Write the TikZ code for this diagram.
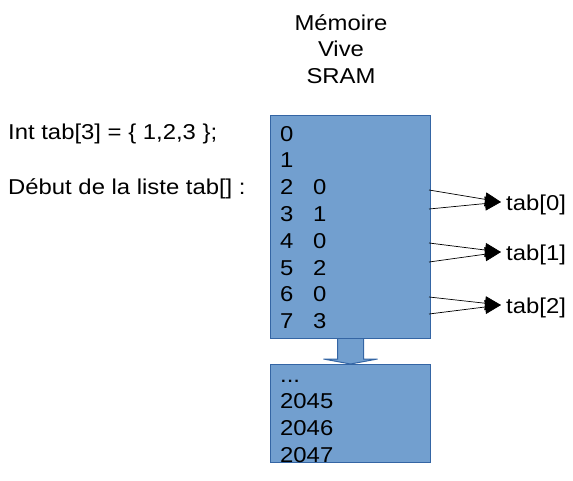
\documentclass[tikz,border=0pt]{standalone}
\usepackage{fontspec}
\setmainfont{Liberation Sans}[FakeStretch=1.11]
\usetikzlibrary{arrows.meta, positioning, calc}
\definecolor{ramfill}{RGB}{114, 159, 207}
\definecolor{ramedge}{RGB}{52, 101, 164}

\begin{document}
\begin{tikzpicture}[x=1pt, y=-1pt,
  txt/.style={inner sep=0pt, font=\fontsize{21.5}{26.7}\selectfont},
  ram/.style={draw=ramedge, fill=ramfill, line width=1pt, inner sep=0pt, minimum width=160pt},
  ptr/.style={-{Triangle[length=16pt, width=14pt]}, line width=0.7pt}
]
  \useasboundingbox (0,0) rectangle (573,480);
  \node[txt, align=center, anchor=north] (titre) at (341,14) {Mémoire\\Vive\\SRAM};
  \node[txt, anchor=base west] (decl) at (8,139) {Int tab[3] = \{ 1,2,3 \};};
  \node[txt, anchor=base west] (debut) at (8,194) {Début de la liste tab[] :};

  % memoire : adresses 0 a 7, puis la fin
  \node[ram, minimum height=223pt, anchor=north west] (haut) at (270,115) {};
  \node[ram, minimum height=98pt, anchor=north west] (bas) at (270,364) {};
  \foreach \adr/\val [count=\i from 0] in {0/,1/,2/0,3/1,4/0,5/2,6/0,7/3} {
    \node[txt, anchor=base west] (a\adr) at (280,141+26.8*\i) {\adr};
    \node[txt, anchor=base west] (v\adr) at (313,141+26.8*\i) {\val};
  }
  \node[txt, anchor=base west] (b0) at (280,382) {...};
  \foreach \adr [count=\i] in {2045,2046,2047}
    \node[txt, anchor=base west] (b\i) at (280,382+26.7*\i) {\adr};

  % fleche entre les deux blocs
  \draw[ram] ($(haut.south)+(-13,0)$) -- ++(0,20) -- ++(-14,0) -- (bas.north)
    -- ($(haut.south)+(27,20)$) -- ++(-14,0) -- ++(0,-20);

  % tab[0..2]
  \foreach \k/\ya/\yb/\yt in {0/190/209/202, 1/243/262/252, 2/297/314/305} {
    \node[txt, anchor=base west] (tab\k) at (506,\yt+8) {tab[\k]};
    \coordinate (p\k) at (429,\ya);
    \coordinate (q\k) at (429,\yb);
    \draw[ptr] (p\k) -- ($(tab\k.base west)+(-5,-8)$);
    \draw[ptr] (q\k) -- ($(tab\k.base west)+(-5,-8)$);
  }
\end{tikzpicture}
\end{document}
